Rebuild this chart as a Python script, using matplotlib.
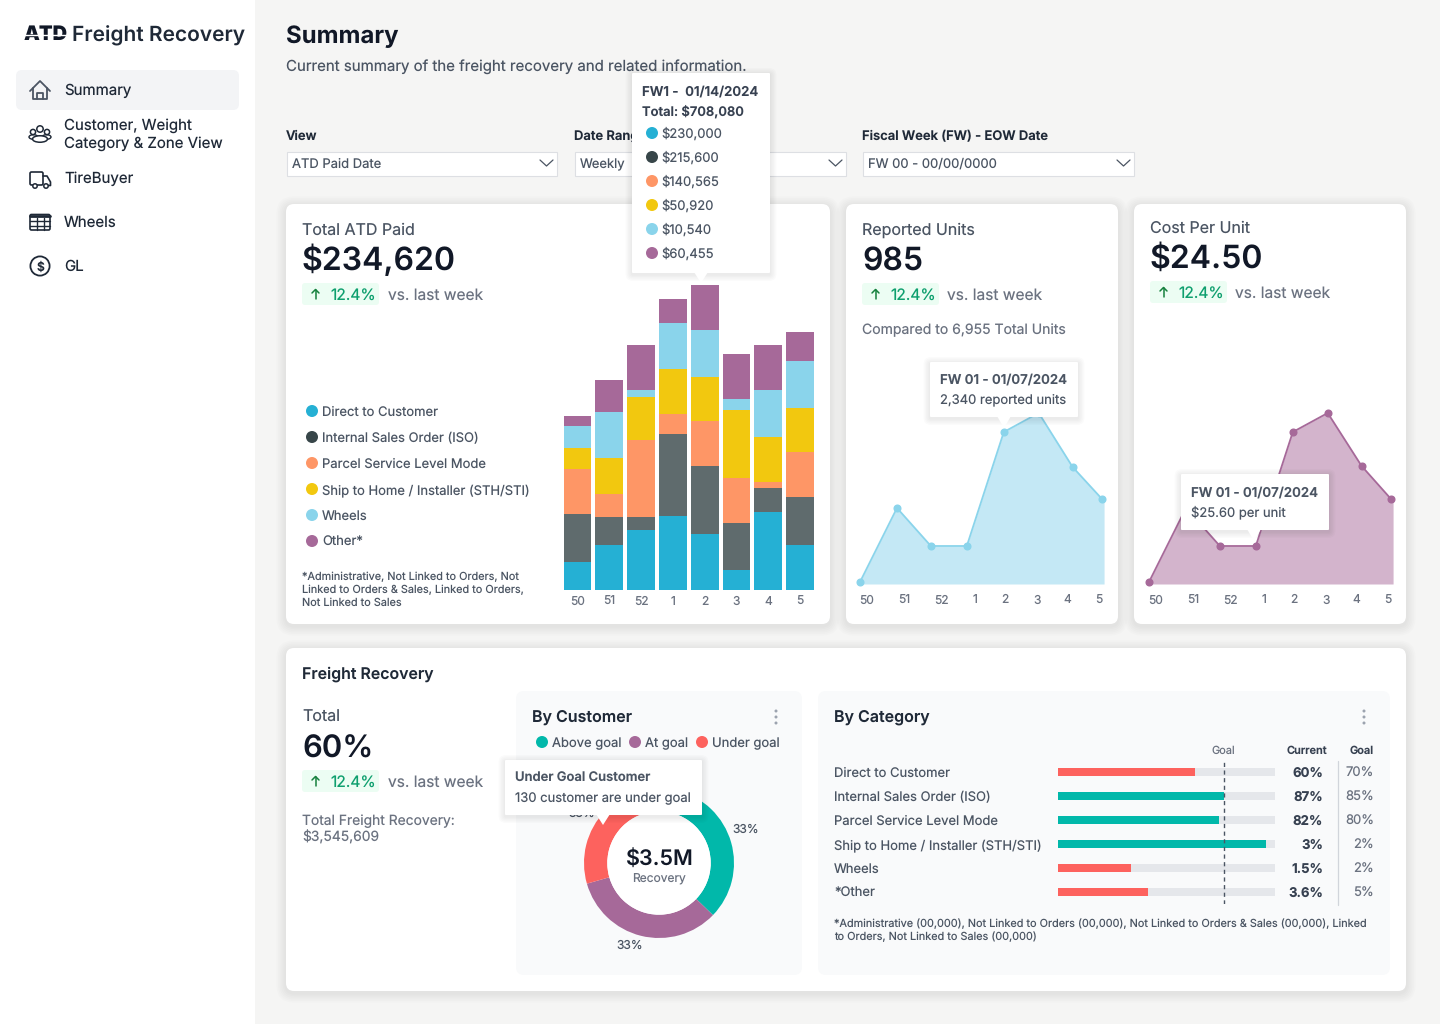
import matplotlib
matplotlib.use("Agg")
import matplotlib.pyplot as plt
from matplotlib.patches import FancyBboxPatch, Polygon, Circle, Ellipse, Rectangle

plt.rcParams['font.family'] = ['Inter', 'DejaVu Sans']
plt.rcParams['text.hinting'] = 'no_hinting'
plt.rcParams['text.hinting_factor'] = 1

# ---- data ----
weeks = ['50', '51', '52', '1', '2', '3', '4', '5']
stack_names = ['Direct to Customer', 'Internal Sales Order (ISO)', 'Parcel Service Level Mode',
               'Ship to Home / Installer (STH/STI)', 'Wheels', 'Other*']
direct = [28, 45, 60, 74, 56, 20, 78, 45]
internal = [48, 28, 13, 82, 68, 47, 24, 48]
parcel = [45, 23.3, 77, 20, 45, 45, 6, 45]
sth = [21.3, 36, 43, 45, 44, 68, 45, 44]
wheels = [21.7, 45.7, 7, 46, 47, 11, 47, 47]
other = [10, 32, 45, 24, 45, 45, 45, 29]
stack_colors = ['#25B0D4', '#5F6B6D', '#FE9666', '#F2C80F', '#8AD4EB', '#A66999']
legend_dots = ['#25B0D4', '#374649', '#FE9666', '#F2C80F', '#8AD4EB', '#A66999']
tip_values = ['$230,000', '$215,600', '$140,565', '$50,920', '$10,540', '$60,455']

area_pos_units = [0, 1.07, 2.05, 3.09, 4.16, 5.17, 6.15, 7]
area_tick_units = [0.2, 1.28, 2.35, 3.33, 4.2, 5.11, 6.01, 6.9]
units_vals = [2, 76, 38, 38, 152, 171, 117, 85]
cost_vals = [2, 76, 38, 38, 152, 171, 118, 85]

donut_vals = [33, 33, 33]
donut_colors = ['#01B8AA', '#A66999', '#FD625E']
donut_labels = ['Above goal', 'At goal', 'Under goal']

cat_names = ['Direct to Customer', 'Internal Sales Order (ISO)', 'Parcel Service Level Mode',
             'Ship to Home / Installer (STH/STI)', 'Wheels', '*Other']
cat_bar = [63.1, 76.6, 74.4, 95.7, 33.6, 41.3]
cat_goal_mark = 76.7
cat_above = [False, True, True, True, False, False]
cat_current = ['60%', '87%', '82%', '3%', '1.5%', '3.6%']
cat_goal = ['70%', '85%', '80%', '2%', '2%', '5%']

W, H = 1440, 1024
fig = plt.figure(figsize=(14.4, 10.24), dpi=100, facecolor='#F5F5F4')


def overlay(z):
    a = fig.add_axes([0, 0, 1, 1], zorder=z)
    a.set_xlim(0, W)
    a.set_ylim(H, 0)
    a.axis('off')
    a.patch.set_alpha(0)
    return a


def rect_axes(x0, y0, x1, y1, z=1):
    a = fig.add_axes([x0 / W, 1 - y1 / H, (x1 - x0) / W, (y1 - y0) / H], zorder=z)
    a.patch.set_alpha(0)
    return a


bg = overlay(0)
fg = overlay(5)
PX = 0.72


def T(a, x, cy, s, size, color='#1F2937', weight='normal', ha='left'):
    a.text(x, cy + 0.36 * size, s, fontsize=size * PX, color=color, fontweight=weight,
           ha=ha, va='baseline', zorder=6)


def box(a, x0, y0, x1, y1, color, r=0, z=1, ec='none', lw=0):
    a.add_patch(FancyBboxPatch((x0, y0), x1 - x0, y1 - y0,
                               boxstyle=f"round,pad=0,rounding_size={r}",
                               fc=color, ec=ec, lw=lw, zorder=z))


def shadow(a, x0, y0, x1, y1, r=8, z=1, n=6, alpha=0.011, dy=2, spread=1.6):
    for i in range(n, 0, -1):
        p = i * spread
        a.add_patch(FancyBboxPatch((x0 - p, y0 - p + dy), x1 - x0 + 2 * p, y1 - y0 + 2 * p,
                                   boxstyle=f"round,pad=0,rounding_size={r + p}",
                                   fc='black', ec='none', alpha=alpha, zorder=z))


def card(x0, y0, x1, y1):
    shadow(bg, x0, y0, x1, y1)
    box(bg, x0, y0, x1, y1, 'white', r=8, z=2)


def dot(a, x, y, c, r=6):
    a.add_patch(Circle((x, y), r, fc=c, ec='none', zorder=6))


def L(xs, ys, lw=1.5, c='#374151', a=None):
    (a or bg).plot(xs, ys, color=c, lw=lw, solid_capstyle='round', solid_joinstyle='round', zorder=6)


def tooltip(x0, y0, x1, y1, cx, tip):
    shadow(fg, x0, y0, x1, y1, r=1, z=3, n=5, alpha=0.016, dy=1.5, spread=1.3)
    fg.add_patch(Polygon([(cx - 7, y1 - 1), (cx + 7, y1 - 1), (cx, tip)], fc='white', ec='none', zorder=4))
    box(fg, x0, y0, x1, y1, 'white', r=1, z=4)


def badge(x, y, text_x):
    box(bg, x, y, x + 77, y + 22, '#ECFDF3', r=3, z=3)
    cx, cy = x + 13.5, y + 11
    L([cx, cx], [cy - 4.5, cy + 4.5], lw=1.1, c='#15803D')
    L([cx - 3.5, cx, cx + 3.5], [cy - 1, cy - 4.5, cy - 1], lw=1.1, c='#15803D')
    T(bg, x + 28, y + 11.4, '12.4%', 15.6, color='#0E9F6E')
    T(bg, text_x, y + 11.4, 'vs. last week', 15.5, color='#6B7280')


# ---- sidebar ----
bg.add_patch(Rectangle((0, 0), 255, H, fc='white', ec='none', zorder=1))
T(bg, 24, 33, 'ATD', 20, color='#111827', weight='black')
bg.plot([22, 66], [35, 35], color='white', lw=1.0, zorder=7)
T(bg, 72, 34, 'Freight Recovery', 20.9, color='#1F2937', weight='semibold')
box(bg, 16, 70, 239, 110, '#F3F4F6', r=6, z=2)
nav_text = '#1F2937'
T(bg, 64, 89.5, 'Summary', 15, nav_text)
T(bg, 64, 124.5, 'Customer, Weight', 15, nav_text)
T(bg, 64, 142.5, 'Category & Zone View', 15, nav_text)
T(bg, 64, 177.5, 'TireBuyer', 15, nav_text)
T(bg, 64, 221.5, 'Wheels', 15, nav_text)
T(bg, 64, 265.5, 'GL', 15, nav_text)
# icons
L([30, 40, 50], [91, 81, 91], c='#4B5563', lw=1.3)
L([33, 33, 47, 47], [88, 99, 99, 88], c='#4B5563', lw=1.3)
L([37, 37, 43, 43], [99, 93, 93, 99], c='#4B5563', lw=1.3)
for (cx, cy, r) in [(40, 129, 3.2), (33, 132, 2.6), (47, 132, 2.6)]:
    bg.add_patch(Circle((cx, cy), r, fc='none', ec='#1F2937', lw=1.1, zorder=6))
bg.add_patch(Ellipse((40, 139), 15, 6.5, fc='white', ec='#1F2937', lw=1.1, zorder=6))
bg.add_patch(Ellipse((33.5, 137), 9, 4.5, fc='none', ec='#1F2937', lw=1.0, zorder=5))
bg.add_patch(Ellipse((46.5, 137), 9, 4.5, fc='none', ec='#1F2937', lw=1.0, zorder=5))
box(bg, 30, 172, 43, 185, 'none', r=1.5, z=6, ec='#1F2937', lw=1.2)
L([43, 47, 50.5, 50.5, 48], [176, 176, 182, 185.5, 185.5], lw=1.2, c='#1F2937')
for cx in (35, 46):
    bg.add_patch(Circle((cx, 186), 2.2, fc='white', ec='#1F2937', lw=1.1, zorder=7))
box(bg, 30, 214.5, 50, 230, 'none', r=1.5, z=6, ec='#1F2937', lw=1.2)
L([30, 50], [216, 216], lw=2.0, c='#1F2937')
L([30, 50], [221, 221], lw=1.0, c='#1F2937')
L([30, 50], [225.5, 225.5], lw=1.0, c='#1F2937')
L([36.5, 36.5], [218, 230], lw=1.0, c='#1F2937')
L([43.5, 43.5], [218, 230], lw=1.0, c='#1F2937')
bg.add_patch(Circle((40, 266), 9.6, fc='none', ec='#1F2937', lw=1.3, zorder=6))
T(bg, 40, 266, '$', 12, '#1F2937', weight='semibold', ha='center')

# ---- header ----
T(bg, 286, 34.5, 'Summary', 24, '#111827', weight='bold')
T(bg, 286, 65.5, 'Current summary of the freight recovery and related information.', 15, '#4B5563')
for x0, x1, lab, val in [(286, 557, 'View', 'ATD Paid Date'), (574, 846, 'Date Range', 'Weekly'),
                         (862, 1134, 'Fiscal Week (FW) - EOW Date', 'FW 00 - 00/00/0000')]:
    T(bg, x0, 135.3, lab, 13, '#1F2937', weight='semibold')
    bg.add_patch(Rectangle((x0 + .5, 151.5), x1 - x0 - 1, 24, fc='white', ec='#DDDFE3', lw=0.8, zorder=2))
    T(bg, x0 + 6, 163.2, val, 13, '#4B5563')
    L([x1 - 17, x1 - 10.5, x1 - 4], [160, 166, 160], lw=0.9, c='#4B5563')

# ---- cards ----
card(286, 204, 830, 624)
card(846, 204, 1118, 624)
card(1134, 204, 1406, 624)
card(286, 648, 1406, 991)

T(bg, 302, 229, 'Total ATD Paid', 16, '#4B5563')
T(bg, 302, 258.5, '$234,620', 32, '#111827', weight='semibold')
badge(302, 283, 388)
for i, n in enumerate(stack_names):
    y = 411 + 26 * i
    dot(bg, 312, y, legend_dots[i], 6)
    T(bg, 322, y + 0.3, n, 13, '#4B5563')
for i, s in enumerate(['*Administrative, Not Linked to Orders, Not',
                       'Linked to Orders & Sales, Linked to Orders,',
                       'Not Linked to Sales']):
    T(bg, 302, 576 + 13 * i, s, 10.9, '#4B5563')

T(bg, 862, 229, 'Reported Units', 16, '#4B5563')
T(bg, 862, 258.5, '985', 32, '#111827', weight='semibold')
badge(862, 283, 947)
T(bg, 862, 329, 'Compared to 6,955 Total Units', 14, '#6B7280')

T(bg, 1150, 227, 'Cost Per Unit', 16, '#4B5563')
T(bg, 1150, 256.5, '$24.50', 32, '#111827', weight='semibold')
badge(1150, 281, 1235)

# ---- stacked bars ----
ax = rect_axes(560, 280, 817, 590)
step, x0_bar = 31.8, 577.5
ax.set_xlim((560 - x0_bar) / step, (817 - x0_bar) / step)
ax.set_ylim(0, 310)
bottom = [0] * len(weeks)
for vals, c in zip([direct, internal, parcel, sth, wheels, other], stack_colors):
    ax.bar(range(len(weeks)), vals, bottom=bottom, width=0.88, color=c, lw=0)
    bottom = [b + v for b, v in zip(bottom, vals)]
ax.set_xticks(range(len(weeks)), weeks)
ax.set_yticks([])
ax.tick_params(axis='x', length=0, pad=4.5, labelsize=12 * PX, labelcolor='#6B7280')
for s in ax.spines.values():
    s.set_visible(False)

# ---- areas ----
area_step = (1102 - 860) / 7


def area(x0, vals, line, fill):
    a = rect_axes(x0 - 5, 390, x0 + 250, 584)
    a.set_xlim(-5 / area_step, 250 / area_step)
    a.set_ylim(0, 194)
    a.fill_between(area_pos_units + [area_pos_units[-1] + 0.06], vals + [vals[-1]], 0, color=fill, lw=0)
    a.plot(area_pos_units, vals, color=line, lw=1.3, marker='o', ms=4.8, clip_on=False)
    a.set_xticks(area_tick_units, weeks)
    a.set_yticks([])
    a.tick_params(axis='x', length=0, pad=7.5, labelsize=12 * PX, labelcolor='#6B7280')
    for s in a.spines.values():
        s.set_visible(False)


area(860, units_vals, '#8AD4EB', '#C4E8F5')
area(1149, cost_vals, '#A66999', '#D3B4CC')

# ---- bottom card ----
T(bg, 302, 673, 'Freight Recovery', 15.9, '#1F2937', weight='semibold')
T(bg, 302, 716.3, 'Total', 16, '#4B5563')
T(bg, 302, 746, '60%', 31, '#111827', weight='semibold')
badge(302, 770, 388)
T(bg, 302, 820, 'Total Freight Recovery:', 13.85, '#6B7280')
T(bg, 302, 837, '$3,545,609', 13.85, '#6B7280')

box(bg, 516, 691, 802, 975, '#F9FAFB', r=8, z=3)
box(bg, 818, 691, 1390, 975, '#F9FAFB', r=8, z=3)

T(bg, 532, 716, 'By Customer', 16, '#1F2937', weight='semibold')
for ky in (711, 717, 723):
    dot(bg, 776, ky, '#9CA3AF', 1.5)
    dot(bg, 1364, ky, '#9CA3AF', 1.5)
for x, lab, c in zip([542, 635, 702], donut_labels, donut_colors):
    dot(bg, x, 742, c, 6)
    T(bg, x + 10, 742.3, lab, 13, '#4B5563')

dax = rect_axes(574, 778, 744, 948)
dax.pie(donut_vals, colors=donut_colors, startangle=76, counterclock=False, radius=1,
        wedgeprops=dict(width=1 - 51.7 / 75, lw=0))
dax.set_xlim(-85 / 75, 85 / 75)
dax.set_ylim(-85 / 75, 85 / 75)
dax.add_patch(Circle((0, 0), 51.7 / 75, fc='white', ec='none', zorder=5))
T(fg, 659, 857, '$3.5M', 21.5, '#111827', weight='semibold', ha='center')
T(fg, 659, 878, 'Recovery', 12, '#6B7280', ha='center')
T(bg, 746, 829, '33%', 12, '#4B5563', ha='center')
T(bg, 630, 945, '33%', 12, '#4B5563', ha='center')
T(bg, 582, 813, '33%', 12, '#4B5563', ha='center')

T(bg, 834, 716, 'By Category', 16, '#1F2937', weight='semibold')
T(bg, 1223, 750, 'Goal', 11, '#6B7280', ha='center')
T(bg, 1307, 750, 'Current', 11, '#374151', weight='semibold', ha='center')
T(bg, 1362, 750, 'Goal', 11, '#374151', weight='semibold', ha='center')

cax = rect_axes(1058, 760, 1275, 904)
cax.set_xlim(0, 100)
cax.set_ylim(5.5, -0.5)
cax.barh(range(6), [100] * 6, height=8 / 24, color='#E5E7EB', lw=0)
cax.barh(range(6), cat_bar, height=8 / 24, lw=0,
         color=['#01B8AA' if a else '#FD625E' for a in cat_above])
cax.axvline(cat_goal_mark, color='#4B5563', lw=1.0, ls=(0, (3, 2.5)))
cax.axis('off')
for i in range(6):
    y = 772.3 + 24 * i
    T(bg, 834, y, cat_names[i], 13, '#4B5563')
    T(bg, 1323, y, cat_current[i], 13.2, '#374151', weight='bold', ha='right')
    T(bg, 1374, y, cat_goal[i], 13, '#6B7280', ha='right')
L([1337.5, 1337.5], [761, 905], lw=0.9, c='#D1D5DB')
T(bg, 834, 923, '*Administrative (00,000), Not Linked to Orders (00,000), Not Linked to Orders & Sales (00,000), Linked', 10.9, '#4B5563')
T(bg, 834, 936, 'to Orders, Not Linked to Sales (00,000)', 10.9, '#4B5563')

# ---- tooltips ----
tooltip(632, 73, 770, 273, 701, 283)
T(fg, 642, 91, 'FW1 -  01/14/2024', 13.3, '#374151', weight='semibold')
T(fg, 642, 111, 'Total: $708,080', 13, '#374151', weight='semibold')
for i, v in enumerate(tip_values):
    y = 133 + 24 * i
    dot(fg, 652, y, legend_dots[i], 6)
    T(fg, 661.5, y, v, 13, '#4B5563')

tooltip(930, 362, 1078, 417, 1004, 428)
T(fg, 940, 379, 'FW 01 - 01/07/2024', 13.3, '#4B5563', weight='semibold')
T(fg, 940, 399, '2,340 reported units', 13, '#4B5563')

tooltip(1181, 474, 1329, 530, 1254, 541)
T(fg, 1191, 492, 'FW 01 - 01/07/2024', 13.3, '#4B5563', weight='semibold')
T(fg, 1191, 512, '$25.60 per unit', 13, '#4B5563')

tooltip(505, 760, 702, 815, 603, 825)
T(fg, 515, 777.3, 'Under Goal Customer', 13, '#4B5563', weight='semibold')
T(fg, 515, 797.3, '130 customer are under goal', 13, '#4B5563')

fig.savefig('out.png', dpi=100, facecolor=fig.get_facecolor())
